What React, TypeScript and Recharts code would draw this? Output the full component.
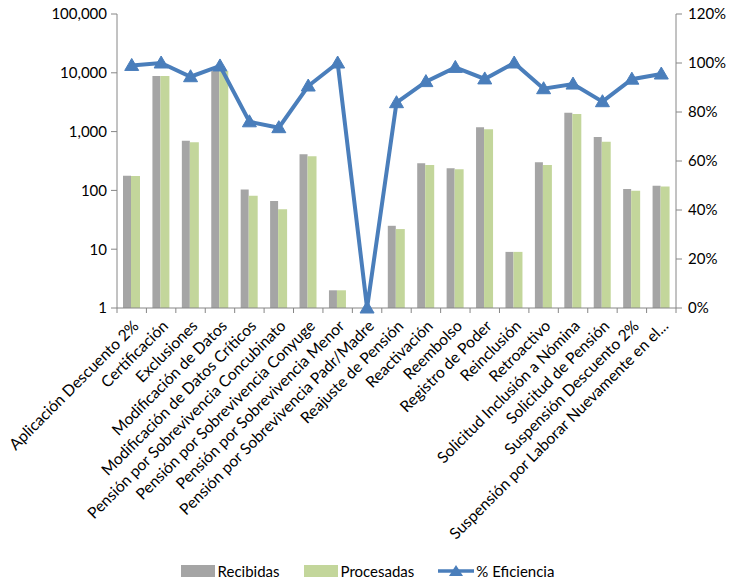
import React from 'react';
import {
  ComposedChart,
  Bar,
  Line,
  XAxis,
  YAxis,
  Legend,
} from 'recharts';

const categories = [
  'Aplicación Descuento 2%',
  'Certificación',
  'Exclusiones',
  'Modificación de Datos',
  'Modificación de Datos Críticos',
  'Pensión por Sobrevivencia Concubinato',
  'Pensión por Sobrevivencia Conyuge',
  'Pensión por Sobrevivencia Menor',
  'Pensión por Sobrevivencia Padr/Madre',
  'Reajuste de Pensión',
  'Reactivación',
  'Reembolso',
  'Registro de Poder',
  'Reinclusión',
  'Retroactivo',
  'Solicitud Inclusión a Nómina',
  'Solicitud de Pensión',
  'Suspensión Descuento 2%',
  'Suspensión por Laborar Nuevamente en el...',
];

const recibidas = [178, 8830, 700, 10860, 104, 66, 411, 2, null, 25, 289, 237, 1183, 9, 300, 2100, 809, 106, 120];
const procesadas = [176, 8800, 658, 10720, 81, 48, 380, 2, null, 22, 271, 228, 1093, 9, 271, 1990, 674, 99, 116];
const eficiencia = [0.99, 1.0, 0.944, 0.988, 0.76, 0.736, 0.906, 1.0, 0, 0.838, 0.924, 0.982, 0.935, 1.0, 0.895, 0.914, 0.842, 0.934, 0.955];

const leftTicks = [1, 10, 100, 1000, 10000, 100000];
const rightTicks = [0, 0.2, 0.4, 0.6, 0.8, 1.0, 1.2];

const data = categories.map((name, i) => ({
  name,
  recibidas: recibidas[i],
  procesadas: procesadas[i],
  eficiencia: eficiencia[i],
}));

const W = 735;
const H = 583;
const LEFT_W = 117;
const RIGHT_W = 59;
const BAND = (W - LEFT_W - RIGHT_W) / categories.length;
const FONT = 'Lato, "Open Sans", sans-serif';
const AXIS_COLOR = '#868686';
const BLUE = '#4A7EBB';

const XTick = (props: any) => {
  const { x, y, payload, index } = props;
  const last = index === categories.length - 1;
  return (
    <g>
      <line x1={x - BAND / 2} y1={y} x2={x - BAND / 2} y2={y + 5} stroke={AXIS_COLOR} />
      {last && <line x1={x + BAND / 2} y1={y} x2={x + BAND / 2} y2={y + 5} stroke={AXIS_COLOR} />}
      <text
        x={0}
        y={0}
        transform={`translate(${x + 8},${y + 19}) rotate(-45)`}
        textAnchor="end"
        fontSize={15.7}
        fontFamily={FONT}
        fill="#000"
      >
        {payload.value}
      </text>
    </g>
  );
};

const Triangle = (props: any) => {
  const { cx, cy } = props;
  if (cx == null || cy == null) return null;
  return (
    <path
      d={`M${cx},${cy - 7} L${cx + 7},${cy + 5} L${cx - 7},${cy + 5} Z`}
      fill={BLUE}
      stroke={BLUE}
    />
  );
};

const LegendContent = () => (
  <div
    style={{
      display: 'flex',
      justifyContent: 'center',
      alignItems: 'center',
      height: 25,
      fontFamily: FONT,
      fontSize: 15,
      color: '#000',
    }}
  >
    <span style={{ display: 'inline-block', width: 34, height: 12, background: '#A5A5A5', marginRight: 3 }} />
    <span style={{ marginRight: 24 }}>Recibidas</span>
    <span style={{ display: 'inline-block', width: 34, height: 12, background: '#C3D69B', marginRight: 3 }} />
    <span style={{ marginRight: 24 }}>Procesadas</span>
    <svg width={36} height={14} style={{ marginRight: 2 }}>
      <line x1={0} y1={7} x2={36} y2={7} stroke={BLUE} strokeWidth={3.5} />
      <path d="M18,1 L25,12 L11,12 Z" fill={BLUE} />
    </svg>
    <span>% Eficiencia</span>
  </div>
);

export default function App() {
  return (
    <div style={{ position: 'absolute', left: 0, top: 0, width: W, height: H, background: '#fff' }}>
      <ComposedChart
        width={W}
        height={H}
        data={data}
        margin={{ top: 14, right: 0, bottom: 0, left: 0 }}
        barGap={0}
      >
        <XAxis
          dataKey="name"
          interval={0}
          height={250}
          tickSize={0}
          tickMargin={0}
          tickLine={false}
          stroke={AXIS_COLOR}
          tick={<XTick />}
        />
        <YAxis
          yAxisId="left"
          scale="log"
          domain={[1, 100000]}
          ticks={leftTicks}
          allowDataOverflow
          width={LEFT_W}
          stroke={AXIS_COLOR}
          tickSize={6}
          tickMargin={4}
          tick={{ fill: '#000', fontSize: 15, fontFamily: FONT }}
          tickFormatter={(v: number) => v.toLocaleString('en-US')}
        />
        <YAxis
          yAxisId="right"
          orientation="right"
          domain={[0, 1.2]}
          ticks={rightTicks}
          width={RIGHT_W}
          stroke={AXIS_COLOR}
          tickSize={6}
          tickMargin={6}
          tick={{ fill: '#000', fontSize: 15, fontFamily: FONT }}
          tickFormatter={(v: number) => `${Math.round(v * 100)}%`}
        />
        <Bar yAxisId="left" dataKey="recibidas" name="Recibidas" fill="#A5A5A5" barSize={8} isAnimationActive={false} />
        <Bar yAxisId="left" dataKey="procesadas" name="Procesadas" fill="#C3D69B" barSize={9} isAnimationActive={false} />
        <Line
          yAxisId="right"
          dataKey="eficiencia"
          name="% Eficiencia"
          stroke={BLUE}
          strokeWidth={4}
          dot={<Triangle />}
          activeDot={false}
          isAnimationActive={false}
        />
        <Legend verticalAlign="bottom" height={25} content={<LegendContent />} />
      </ComposedChart>
    </div>
  );
}
